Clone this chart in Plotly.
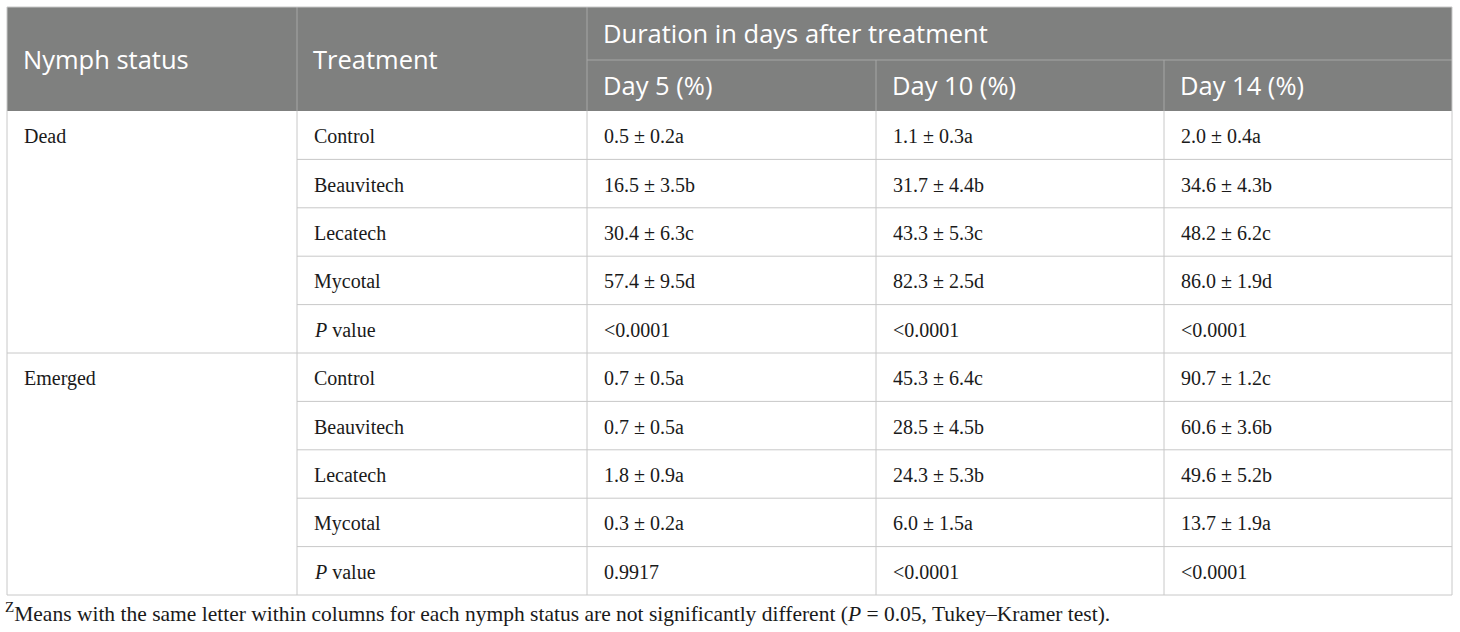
import plotly.graph_objects as go

# ---------------- data ----------------
statuses = ["Dead", "Emerged"]
treatments = ["Control", "Beauvitech", "Lecatech", "Mycotal"]
day_labels = ["Day 5 (%)", "Day 10 (%)", "Day 14 (%)"]

dead_mean = [[0.5, 16.5, 30.4, 57.4], [1.1, 31.7, 43.3, 82.3], [2.0, 34.6, 48.2, 86.0]]
dead_se = [[0.2, 3.5, 6.3, 9.5], [0.3, 4.4, 5.3, 2.5], [0.4, 4.3, 6.2, 1.9]]
dead_letter = [["a", "b", "c", "d"], ["a", "b", "c", "d"], ["a", "b", "c", "d"]]
dead_p = ["<0.0001", "<0.0001", "<0.0001"]

emerged_mean = [[0.7, 0.7, 1.8, 0.3], [45.3, 28.5, 24.3, 6.0], [90.7, 60.6, 49.6, 13.7]]
emerged_se = [[0.5, 0.5, 0.9, 0.2], [6.4, 4.5, 5.3, 1.5], [1.2, 3.6, 5.2, 1.9]]
emerged_letter = [["a", "a", "a", "a"], ["c", "b", "b", "a"], ["c", "b", "b", "a"]]
emerged_p = ["0.9917", "<0.0001", "<0.0001"]

header_group = "Duration in days after treatment"
header_status = "Nymph status"
header_treat = "Treatment"
p_label = "<i>P</i> value"
footnote = ("<sup>Z</sup>Means with the same letter within columns for each nymph status are "
            "not significantly different (<i>P</i> = 0.05, Tukey\u2013Kramer test).")

# ---------------- layout constants ----------------
W, H = 1460, 632
col_edges = [7, 297, 587, 876, 1164, 1452]
top, head_mid, head_bot = 7, 60, 111
row_h = 48.4
pad = 15
HEAD_BG = "#7f807f"
LINE = "#c8c8c8"
HEAD_LINE = "#a6a6a6"
HEAD_FONT = dict(family="Open Sans, Noto Sans, sans-serif", size=25.5, color="white")
BODY_FONT = dict(family="Liberation Serif, Times New Roman, serif", size=20, color="#1a1a1a")
FOOT_FONT = dict(family="Liberation Serif, Times New Roman, serif", size=21.5, color="#1a1a1a")

groups = [(statuses[0], dead_mean, dead_se, dead_letter, dead_p),
          (statuses[1], emerged_mean, emerged_se, emerged_letter, emerged_p)]
rows_per_group = len(treatments) + 1
n_rows = rows_per_group * len(groups)
bottom = head_bot + n_rows * row_h

fig = go.Figure()
shapes = []
ann = []

def line(x0, y0, x1, y1, color=LINE, w=1):
    shapes.append(dict(type="line", xref="x", yref="y", x0=x0, y0=y0, x1=x1, y1=y1,
                       line=dict(color=color, width=w), layer="above"))

def text(x, y, s, font, xanchor="left"):
    ann.append(dict(x=x, y=y, xref="x", yref="y", text=s, showarrow=False,
                    xanchor=xanchor, yanchor="middle", font=font, align="left"))

# header background
shapes.append(dict(type="rect", xref="x", yref="y", x0=col_edges[0], x1=col_edges[-1],
                   y0=top, y1=head_bot, fillcolor=HEAD_BG, line=dict(width=0), layer="below"))
# header lines
line(col_edges[2], head_mid, col_edges[-1], head_mid, HEAD_LINE)
for x in col_edges[1:3]:
    line(x, top, x, head_bot, HEAD_LINE)
for x in col_edges[3:5]:
    line(x, head_mid, x, head_bot, HEAD_LINE)

text(col_edges[0] + pad - 1, (top + head_bot) / 2, header_status, HEAD_FONT)
text(col_edges[1] + pad - 1, (top + head_bot) / 2, header_treat, HEAD_FONT)
text(col_edges[2] + pad - 1, (top + head_mid) / 2 - 1, header_group, HEAD_FONT)
for j, lab in enumerate(day_labels):
    text(col_edges[2 + j] + pad - 1, (head_mid + head_bot) / 2 - 1, lab, HEAD_FONT)

# body
for g, (status, mean, se, letter, pvals) in enumerate(groups):
    g_top = head_bot + g * rows_per_group * row_h
    text(col_edges[0] + pad, g_top + row_h / 2 + 1, status, BODY_FONT)
    for i in range(rows_per_group):
        y0 = g_top + i * row_h
        yc = y0 + row_h / 2 + 1
        if i < len(treatments):
            text(col_edges[1] + pad, yc, treatments[i], BODY_FONT)
            for j in range(len(day_labels)):
                s = f"{mean[j][i]:.1f} \u00b1 {se[j][i]:.1f}{letter[j][i]}"
                text(col_edges[2 + j] + pad, yc, s, BODY_FONT)
        else:
            text(col_edges[1] + pad, yc, p_label, BODY_FONT)
            for j in range(len(day_labels)):
                text(col_edges[2 + j] + pad, yc, pvals[j], BODY_FONT)
        y1 = y0 + row_h
        if i == rows_per_group - 1:
            line(col_edges[0], y1, col_edges[-1], y1)
        else:
            line(col_edges[1], y1, col_edges[-1], y1)

for x in col_edges:
    line(x, head_bot, x, bottom)
line(col_edges[0], top, col_edges[-1], top, LINE)
line(col_edges[0], top, col_edges[0], head_bot, LINE)
line(col_edges[-1], top, col_edges[-1], head_bot, LINE)

# footnote
ann.append(dict(x=3, y=bottom + 17.5, xref="x", yref="y", text=footnote,
                showarrow=False, xanchor="left", yanchor="middle", font=FOOT_FONT))

fig.update_layout(
    width=W, height=H, margin=dict(l=0, r=0, t=0, b=0),
    paper_bgcolor="white", plot_bgcolor="white",
    xaxis=dict(range=[0, W], visible=False, fixedrange=True),
    yaxis=dict(range=[H, 0], visible=False, fixedrange=True),
    shapes=shapes, annotations=ann, showlegend=False,
)
fig.write_html("out.html", config={"displayModeBar": False},
               post_script="document.body.style.margin='0';document.body.style.overflow='hidden';")
